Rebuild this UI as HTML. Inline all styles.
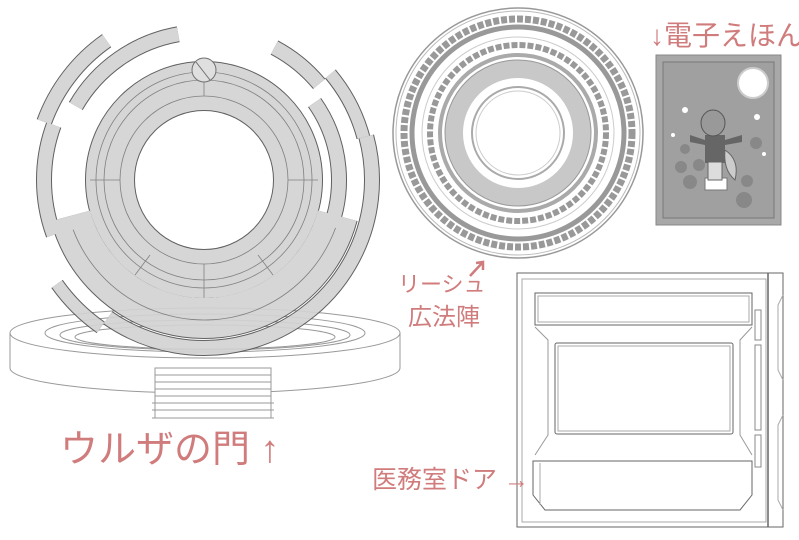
<!DOCTYPE html>
<html><head><meta charset="utf-8"><style>
html,body{margin:0;padding:0;background:#fff;width:799px;height:540px;overflow:hidden}
.lbl{font-family:"Liberation Sans","Noto Sans CJK JP",sans-serif;fill:#d07c7c}
</style></head><body>
<svg width="799" height="540" viewBox="0 0 799 540" xmlns="http://www.w3.org/2000/svg">
<!-- platform -->
<g fill="none" stroke="#999" stroke-width="1">
<path d="M10 333 L10 368 A195 25 0 0 0 400 368 L400 333" fill="#fff"/>
<ellipse cx="205" cy="333" rx="195" ry="25" fill="#fff"/>
<ellipse cx="205" cy="333" rx="160" ry="19"/>
<ellipse cx="205" cy="335" rx="145" ry="15"/>
<ellipse cx="205" cy="337" rx="130" ry="12"/>
<rect x="155" y="368" width="116" height="50" fill="#fff"/>
<line x1="155" y1="375" x2="271" y2="375"/><line x1="155" y1="382" x2="271" y2="382"/>
<line x1="155" y1="389" x2="271" y2="389"/><line x1="155" y1="396" x2="271" y2="396"/>
<line x1="152" y1="403" x2="274" y2="403"/><line x1="152" y1="410" x2="274" y2="410"/>
<line x1="152" y1="418" x2="274" y2="418"/>
</g>
<!-- gate -->
<g fill="none" opacity="0.93">
<g stroke="#555">
<circle cx="204" cy="180" r="170" stroke-width="16" stroke-dasharray="104 2000" transform="rotate(200 204 180)"/>
<circle cx="204" cy="180" r="160" stroke-width="16" stroke-dasharray="112 2000" transform="rotate(160 204 180)"/>
<circle cx="204" cy="180" r="148" stroke-width="16" stroke-dasharray="129 2000" transform="rotate(210 204 180)"/>
<circle cx="204" cy="180" r="150" stroke-width="16" stroke-dasharray="58 2000" transform="rotate(298 204 180)"/>
<circle cx="204" cy="180" r="135" stroke-width="16" stroke-dasharray="141 2000" transform="rotate(325 204 180)"/>
<circle cx="204" cy="180" r="165" stroke-width="14" stroke-dasharray="72 2000" transform="rotate(320 204 180)"/>
<circle cx="204" cy="180" r="168" stroke-width="16" stroke-dasharray="410 2000" transform="rotate(345 204 180)"/>
<circle cx="204" cy="180" r="138" stroke-width="42" stroke-dasharray="361 2000" transform="rotate(15 204 180)"/>
<circle cx="204" cy="180" r="180" stroke-width="14" stroke-dasharray="62 2000" transform="rotate(125 204 180)"/>
<circle cx="204" cy="180" r="94" stroke-width="50"/>
</g>
<g stroke="#d3d3d3">
<circle cx="204" cy="180" r="170" stroke-width="14" stroke-dasharray="104 2000" transform="rotate(200 204 180)"/>
<circle cx="204" cy="180" r="160" stroke-width="14" stroke-dasharray="112 2000" transform="rotate(160 204 180)"/>
<circle cx="204" cy="180" r="148" stroke-width="14" stroke-dasharray="129 2000" transform="rotate(210 204 180)"/>
<circle cx="204" cy="180" r="150" stroke-width="14" stroke-dasharray="58 2000" transform="rotate(298 204 180)"/>
<circle cx="204" cy="180" r="135" stroke-width="14" stroke-dasharray="141 2000" transform="rotate(325 204 180)"/>
<circle cx="204" cy="180" r="165" stroke-width="12" stroke-dasharray="72 2000" transform="rotate(320 204 180)"/>
<circle cx="204" cy="180" r="168" stroke-width="14" stroke-dasharray="410 2000" transform="rotate(345 204 180)"/>
<circle cx="204" cy="180" r="138" stroke-width="40" stroke-dasharray="361 2000" transform="rotate(15 204 180)"/>
<circle cx="204" cy="180" r="180" stroke-width="12" stroke-dasharray="62 2000" transform="rotate(125 204 180)"/>
<circle cx="204" cy="180" r="94" stroke-width="48"/>
</g>
<g stroke="#777" stroke-width="0.8">
<circle cx="204" cy="180" r="84"/><circle cx="204" cy="180" r="100"/><circle cx="204" cy="180" r="108"/>
<circle cx="204" cy="180" r="140" stroke-dasharray="340 2000" transform="rotate(20 204 180)"/>
<line x1="204" y1="62" x2="204" y2="96"/><line x1="204" y1="264" x2="204" y2="298"/>
<line x1="90" y1="180" x2="120" y2="180"/><line x1="288" y1="180" x2="318" y2="180"/>
<line x1="150" y1="255" x2="135" y2="275"/><line x1="258" y1="255" x2="273" y2="275"/>
</g>
<circle cx="204" cy="70" r="12" fill="#ddd" stroke="#666"/>
<line x1="196" y1="62" x2="210" y2="80" stroke="#666"/>
</g>
<text class="lbl" x="60" y="462" font-size="38">ウルザの門 ↑</text>

<!-- magic circle -->
<g fill="none">
<circle cx="518" cy="133" r="125" stroke="#999" stroke-width="1.5"/>
<circle cx="518" cy="133" r="122" stroke="#bbb" stroke-width="1"/>
<circle cx="518" cy="133" r="114" stroke="#999" stroke-width="7" stroke-dasharray="6 2"/>
<circle cx="518" cy="133" r="106" stroke="#999" stroke-width="5"/>
<circle cx="518" cy="133" r="96" stroke="#ccc" stroke-width="1"/>
<circle cx="518" cy="133" r="88" stroke="#999" stroke-width="6" stroke-dasharray="6 2"/>
<circle cx="518" cy="133" r="78" stroke="#aaa" stroke-width="4"/>
<circle cx="518" cy="133" r="64" stroke="#c8c8c8" stroke-width="18"/>
<circle cx="518" cy="133" r="73" stroke="#999" stroke-width="1"/>
<circle cx="518" cy="133" r="46" stroke="#aaa" stroke-width="2"/>
<circle cx="518" cy="133" r="42" stroke="#ccc" stroke-width="1"/>
</g>
<text class="lbl" x="398" y="292" font-size="22">リーシュ</text>
<text class="lbl" x="408" y="325" font-size="24">広法陣</text>
<path d="M470 276 L483 262 M476 263 L483 262 L483 270" stroke="#d07c7c" stroke-width="2.5" fill="none"/>

<!-- picture book -->
<text class="lbl" x="650" y="45" font-size="28">↓電子えほん</text>
<rect x="656" y="55" width="125" height="170" fill="#a8a8a8" stroke="#888"/>
<rect x="663" y="62" width="111" height="156" fill="#a0a0a0" stroke="#777"/>
<circle cx="753" cy="83" r="15" fill="#fff" stroke="#ccc" stroke-width="2"/>
<g fill="#888">
<circle cx="681" cy="167" r="6"/><circle cx="699" cy="165" r="6"/><circle cx="690" cy="182" r="7"/>
<circle cx="747" cy="181" r="6"/><circle cx="744" cy="200" r="8"/><circle cx="756" cy="143" r="6"/><circle cx="685" cy="149" r="5"/>
</g>
<rect x="705" y="178" width="22" height="12" fill="#fff" stroke="#777"/>
<rect x="705" y="135" width="20" height="28" fill="#666"/>
<rect x="708" y="162" width="14" height="18" fill="#ddd" stroke="#666"/>
<ellipse cx="713" cy="123" rx="12" ry="13" fill="#999" stroke="#555"/>
<path d="M690 135 L705 140 L705 145 L690 142Z M725 140 L742 135 L742 142 L725 145Z" fill="#666"/>
<path d="M725 150 q15 10 10 30 q-12 -10 -10 -30" fill="#ccc" stroke="#666"/>
<g fill="#fff"><circle cx="685" cy="110" r="3"/><circle cx="757" cy="117" r="3"/><circle cx="673" cy="135" r="2"/><circle cx="764" cy="154" r="2"/></g>

<!-- door -->
<g fill="none" stroke="#666" stroke-width="1">
<rect x="517" y="273" width="266" height="254" fill="#fff"/>
<rect x="522" y="279" width="244" height="243" stroke="#aaa"/>
<line x1="768" y1="273" x2="768" y2="527" stroke-width="1.5"/>
<path d="M783 295 L778 305 L778 370 L783 380 M783 415 L778 425 L778 500 L783 510" stroke="#aaa"/>
<rect x="535" y="293" width="217" height="32"/>
<rect x="538" y="296" width="211" height="26" stroke="#aaa"/>
<path d="M535 327 L548 340 L548 435 L535 455 M752 327 L740 340 L740 435 L752 455" stroke="#999"/>
<rect x="555" y="343" width="178" height="91" rx="2"/>
<rect x="558" y="346" width="172" height="85" stroke="#aaa"/>
<path d="M533 461 L752 461 L752 495 L740 510 L545 510 L533 495 Z"/>
<line x1="540" y1="463" x2="540" y2="505" stroke="#aaa"/>
<rect x="755" y="310" width="6" height="30" stroke="#888"/>
<rect x="755" y="345" width="6" height="85" stroke="#888"/>
<rect x="755" y="435" width="6" height="32" stroke="#888"/>
</g>
<text class="lbl" x="372" y="488" font-size="25">医務室ドア →</text>
</svg>
</body></html>
